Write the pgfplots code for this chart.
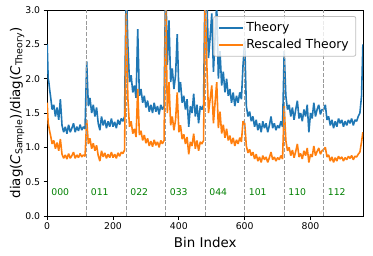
\documentclass[border=0pt]{standalone}
\usepackage{pgfplots}
\pgfplotsset{compat=1.18}
\usepackage{pgfplotstable}
\usepackage{fontspec}
\setmainfont{DejaVu Sans}
\definecolor{mplblue}{HTML}{1F77B4}
\definecolor{mplorange}{HTML}{FF7F0E}
\definecolor{mplgreen}{HTML}{008000}
\pgfplotstableread{
x b o
0 2.50 1.65
3 2.00 1.35
5 1.95 1.30
8 1.82 1.22
10 1.75 1.18
15 1.55 1.05
20 1.62 1.10
25 1.45 0.98
30 1.58 1.07
35 1.40 0.95
40 1.70 1.12
45 1.32 0.90
50 1.22 0.84
55 1.30 0.89
60 1.20 0.83
65 1.33 0.91
70 1.22 0.84
75 1.28 0.88
80 1.35 0.93
85 1.22 0.84
90 1.30 0.89
95 1.24 0.85
100 1.33 0.91
105 1.25 0.86
110 1.30 0.89
115 1.27 0.87
120 2.25 1.40
125 1.60 1.05
130 1.72 1.13
135 1.50 0.98
140 1.62 1.06
145 1.45 0.95
150 1.58 1.03
155 1.35 0.88
160 1.25 0.80
165 1.45 0.95
170 1.32 0.86
175 1.40 0.92
180 1.28 0.84
185 1.38 0.90
190 1.30 0.85
195 1.42 0.93
200 1.30 0.85
205 1.37 0.90
210 1.28 0.84
215 1.40 0.92
220 1.33 0.87
225 1.42 0.93
230 1.38 0.91
235 1.45 0.96
240 3.40 2.95
245 2.50 1.72
250 1.95 1.30
255 2.05 1.38
260 1.80 1.20
265 1.90 1.27
270 1.72 1.15
275 2.72 1.85
280 1.75 1.18
285 1.85 1.24
290 1.65 1.10
295 1.75 1.18
300 1.58 1.06
305 1.68 1.13
310 1.52 1.02
315 1.62 1.09
320 1.50 1.01
325 1.65 1.11
330 1.52 1.03
335 1.60 1.08
340 1.48 1.00
345 1.62 1.10
350 1.55 1.05
355 1.60 1.10
360 3.50 3.10
365 2.20 1.50
370 2.85 1.95
375 1.95 1.32
380 2.15 1.45
385 1.85 1.25
390 2.05 1.40
395 2.65 1.80
400 1.80 1.22
405 1.95 1.32
410 1.65 1.12
415 1.75 1.19
420 1.55 1.05
425 1.70 1.15
430 1.30 0.90
435 1.60 1.08
440 1.50 1.02
445 1.78 1.20
450 1.45 0.98
455 1.62 1.10
460 1.35 0.95
465 1.60 1.08
470 1.55 1.05
475 1.62 1.10
480 3.60 3.20
485 3.20 2.20
490 2.30 1.50
495 2.60 1.70
500 2.95 1.90
505 2.10 1.35
510 2.60 1.65
515 3.10 1.95
520 2.00 1.28
525 2.40 1.52
530 1.90 1.20
535 2.10 1.33
540 1.80 1.14
545 2.00 1.27
550 1.75 1.10
555 1.85 1.17
560 1.65 1.05
565 1.80 1.14
570 1.60 1.02
575 1.75 1.11
580 1.65 1.05
585 1.80 1.14
590 1.70 1.08
595 2.20 1.38
600 2.55 1.35
605 1.60 1.02
610 1.45 0.92
615 1.52 0.97
620 1.38 0.88
625 1.45 0.93
630 1.30 0.83
635 1.40 0.90
640 1.25 0.80
645 1.35 0.86
650 1.22 0.78
655 1.38 0.88
660 1.28 0.82
665 1.35 0.86
670 1.22 0.78
675 1.32 0.85
680 1.45 0.93
685 1.28 0.82
690 1.35 0.86
695 1.25 0.80
700 1.32 0.85
705 1.28 0.82
710 1.38 0.88
715 1.30 0.83
720 2.40 1.60
725 1.75 1.10
730 1.55 0.95
735 1.62 1.00
740 1.45 0.88
745 1.58 0.96
750 1.40 0.85
755 1.55 0.94
760 1.68 1.05
765 1.42 0.86
770 1.50 0.91
775 1.38 0.83
780 1.55 0.95
785 1.45 0.88
790 1.62 0.99
795 1.22 0.78
800 1.50 0.90
805 1.42 0.86
810 1.65 1.02
815 1.45 0.88
820 1.55 0.94
825 1.62 0.99
830 1.48 0.90
835 1.55 0.95
840 1.55 0.97
845 1.62 1.00
850 1.40 0.86
855 1.45 0.89
860 1.32 0.80
865 1.40 0.86
870 1.28 0.78
875 1.38 0.85
880 1.30 0.80
885 1.42 0.87
890 1.35 0.83
895 1.40 0.86
900 1.30 0.80
905 1.38 0.85
910 1.32 0.82
915 1.40 0.87
920 1.35 0.84
925 1.42 0.88
930 1.32 0.82
935 1.40 0.87
940 1.38 0.86
945 1.45 0.90
950 1.50 0.93
955 1.75 1.08
959 2.50 1.22
}\datatable
\begin{document}
\begin{tikzpicture}
\begin{axis}[
  width=316pt, height=206pt, scale only axis,
  xmin=0, xmax=960, ymin=0, ymax=3,
  xtick={0,200,400,600,800},
  ytick={0,0.5,1,1.5,2,2.5,3},
  yticklabel style={/pgf/number format/.cd, fixed, fixed zerofill, precision=1},
  /pgf/number format/assume math mode=true,
  ticklabel style={font=\fontsize{9.3}{11}\selectfont},
  tick align=outside, xtick pos=left, ytick pos=left,
  major tick length=3.5pt,
  tick style={black, line width=0.8pt},
  axis line style={line width=0.8pt},
  xlabel={Bin Index},
  ylabel={diag(\textit{C}\textsubscript{Sample})/diag(\textit{C}\textsubscript{Theory})},
  xlabel style={font=\fontsize{13.4}{15}\selectfont, at={(axis description cs:0.5,-0.1505)}, anchor=base},
  ylabel style={font=\fontsize{13.4}{15}\selectfont, at={(axis description cs:-0.0854,0.5)}, anchor=base},
  legend style={at={(axis description cs:1,1)}, xshift=-7pt, yshift=-6pt, anchor=north east,
    draw=black!25, line width=0.8pt, rounded corners=2pt, fill=white, fill opacity=0.8, text opacity=1,
    font=\fontsize{12.4}{14}\selectfont, row sep=2pt, inner xsep=5pt, inner ysep=4pt},
  legend cell align=left,
  legend image code/.code={\draw[#1, line width=1.6pt] (0pt,0pt) -- (24pt,0pt);},
]
\addplot[mplblue, line width=1.6pt, line join=bevel] table[x=x, y=b] {\datatable};
\addlegendentry{Theory}
\addplot[mplorange, line width=1.6pt, line join=bevel] table[x=x, y=o] {\datatable};
\addlegendentry{Rescaled Theory}
\addplot[black!40, line width=1pt, dash pattern=on 4pt off 1.8pt, forget plot] coordinates {(120,0) (120,3)};
\addplot[black!40, line width=1pt, dash pattern=on 4pt off 1.8pt, forget plot] coordinates {(240,0) (240,3)};
\addplot[black!40, line width=1pt, dash pattern=on 4pt off 1.8pt, forget plot] coordinates {(360,0) (360,3)};
\addplot[black!40, line width=1pt, dash pattern=on 4pt off 1.8pt, forget plot] coordinates {(480,0) (480,3)};
\addplot[black!40, line width=1pt, dash pattern=on 4pt off 1.8pt, forget plot] coordinates {(600,0) (600,3)};
\addplot[black!40, line width=1pt, dash pattern=on 4pt off 1.8pt, forget plot] coordinates {(720,0) (720,3)};
\addplot[black!40, line width=1pt, dash pattern=on 4pt off 1.8pt, forget plot] coordinates {(840,0) (840,3)};
\begin{scope}[every node/.style={anchor=base west, inner sep=0pt, text=mplgreen, font=\fontsize{9.3}{11}\selectfont}]
\node at (axis cs:12,0.3) {000};
\node at (axis cs:132,0.3) {011};
\node at (axis cs:252,0.3) {022};
\node at (axis cs:372,0.3) {033};
\node at (axis cs:492,0.3) {044};
\node at (axis cs:612,0.3) {101};
\node at (axis cs:732,0.3) {110};
\node at (axis cs:852,0.3) {112};
\end{scope}
\end{axis}
\pgfresetboundingbox
\path (current axis.south west) ++(-47.2pt,-39pt) rectangle ++(373pt,255pt);
\end{tikzpicture}
\end{document}
